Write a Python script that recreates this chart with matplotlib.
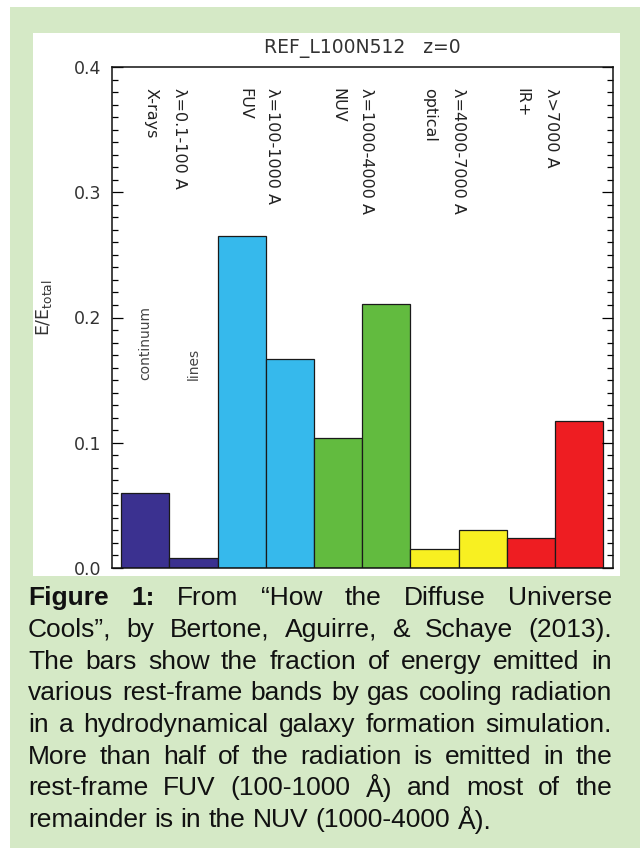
import matplotlib
matplotlib.use("Agg")
import matplotlib.pyplot as plt
from matplotlib.patches import Rectangle
from matplotlib.ticker import MultipleLocator

# energy fraction per band, continuum / lines for each band
bands = ["X-rays", "FUV", "NUV", "optical", "IR+"]
band_ranges = ["λ=0.1-100 A", "λ=100-1000 A", "λ=1000-4000 A",
               "λ=4000-7000 A", "λ>7000 A"]
continuum = [0.060, 0.265, 0.104, 0.015, 0.024]
lines = [0.008, 0.167, 0.211, 0.030, 0.117]
band_colors = ["#3b3190", "#36b9ec", "#62bb3f", "#f8f021", "#ee1d22"]

caption = [
    [("Figure", "bold"), ("1:", "bold"), "From", "“How", "the", "Diffuse", "Universe"],
    "Cools”, by Bertone, Aguirre, & Schaye (2013).".split(" "),
    "The bars show the fraction of energy emitted in".split(" "),
    "various rest-frame bands by gas cooling radiation".split(" "),
    "in a hydrodynamical galaxy formation simulation.".split(" "),
    "More than half of the radiation is emitted in the".split(" "),
    "rest-frame FUV (100-1000 Å) and most of the".split(" "),
    "remainder is in the NUV (1000-4000 Å).".split(" "),
]

W, H = 640, 848
fig = plt.figure(figsize=(W / 100, H / 100), dpi=100)
fig.patch.set_facecolor("white")

# green page and white plot panel
fig.patches.append(Rectangle((10 / W, 0), 1, 1 - 7 / H, transform=fig.transFigure,
                             facecolor="#d5e9c6", edgecolor="none", zorder=-2))
fig.patches.append(Rectangle((33 / W, 1 - 576 / H), (620 - 33) / W, (576 - 33) / H,
                             transform=fig.transFigure, facecolor="white",
                             edgecolor="none", zorder=-1))

ax = fig.add_axes([112 / W, 1 - 568 / H, 500.5 / W, 501 / H])
ax.set_zorder(1)
ax.patch.set_alpha(0)

heights, colors = [], []
for c, l, col in zip(continuum, lines, band_colors):
    heights += [c, l]
    colors += [col, col]
xs = list(range(len(heights)))
ax.bar(xs, heights, width=1.0, color=colors, edgecolor="#1a1a1a", linewidth=0.9)

ax.set_xlim(-0.69, len(heights) - 1 + 0.69)
ax.set_ylim(0, 0.4)
ax.set_xticks([])
ax.yaxis.set_major_locator(MultipleLocator(0.1))
ax.yaxis.set_minor_locator(MultipleLocator(0.01))
ax.yaxis.set_major_formatter(lambda v, p: f"{v:.1f}")
ax.tick_params(axis="y", which="both", direction="in", left=True, right=True,
               labelsize=12.5, labelcolor="#333333", pad=8)
ax.tick_params(axis="y", which="major", length=8, width=0.9)
ax.tick_params(axis="y", which="minor", length=4, width=0.9)
for s in ax.spines.values():
    s.set_linewidth(1.1)
    s.set_color("#111111")

ax.set_ylabel(r"E/E$_{\rm total}$", fontsize=12.5, color="#333333")
ax.yaxis.set_label_coords(-0.115, 0.52)
ax.set_title("REF_L100N512   z=0", fontsize=13.5, color="#333333", pad=10)

# vertical band labels along the top
name_x = [0.12, 2.07, 3.99, 5.90, 7.82]
range_x = [0.72, 2.64, 4.59, 6.50, 8.42]
for nx, rx, name, rng in zip(name_x, range_x, bands, band_ranges):
    ax.text(nx, 0.383, name, rotation=-90, ha="center", va="top",
            fontsize=11.5, color="#222222")
    ax.text(rx, 0.383, rng, rotation=-90, ha="center", va="top",
            fontsize=11.5, color="#222222")
ax.text(0, 0.15, "continuum", rotation=90, ha="center", va="bottom",
        fontsize=10, color="#444444")
ax.text(1, 0.15, "lines", rotation=90, ha="center", va="bottom",
        fontsize=10, color="#444444")

# justified caption below the plot
fig.canvas.draw()
r = fig.canvas.get_renderer()
x0, x1 = 28, 612
y_lines = [598, 630, 662, 693, 725, 757, 788, 820]
fs = 19
for i, (words, yy) in enumerate(zip(caption, y_lines)):
    arts = []
    for w in words:
        weight = "normal"
        if isinstance(w, tuple):
            w, weight = w
        arts.append(fig.text(0, 1 - yy / H, w, fontsize=fs, family="Liberation Sans",
                             weight=weight, va="center", ha="left", color="#111111"))
    widths = [a.get_window_extent(r).width for a in arts]
    if i < len(caption) - 1:
        gap = (x1 - x0 - sum(widths)) / (len(arts) - 1)
    else:
        gap = 0.28 * fs * 100 / 72
    x = x0
    for a, wd in zip(arts, widths):
        a.set_x(x / W)
        x += wd + gap

fig.savefig("out.png", dpi=100)
